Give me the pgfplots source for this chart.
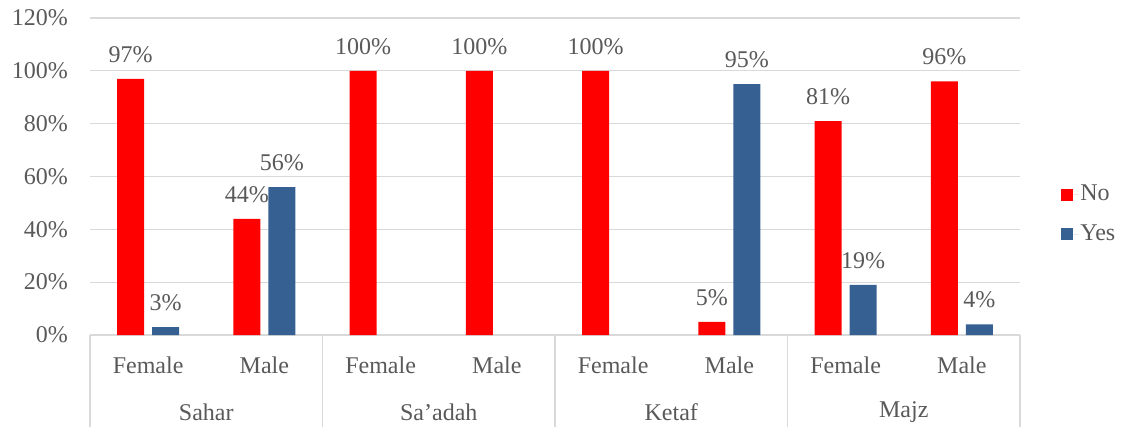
\documentclass[border=0pt]{standalone}
\usepackage{fontspec}
\setmainfont{Liberation Serif}[Ligatures=ResetAll]
\usepackage{pgfplots}
\pgfplotsset{compat=1.18}
\definecolor{noc}{HTML}{FF0000}
\definecolor{yesc}{HTML}{376092}
\definecolor{txt}{HTML}{595959}
\definecolor{grd}{HTML}{D9D9D9}
\begin{document}
\fontsize{24bp}{28bp}\selectfont
\begin{tikzpicture}[x=1bp,y=1bp]
\useasboundingbox (0,0) rectangle (1122,426);
\begin{axis}[
  at={(90bp,91bp)}, anchor=south west,
  scale only axis, width=930bp, height=317bp,
  xmin=-0.5, xmax=7.5, ymin=0, ymax=120,
  ybar=8bp, bar width=27bp,
  xtick={0,...,7},
  xticklabels={Female,Male,Female,Male,Female,Male,Female,Male},
  ytick={0,20,...,120},
  major tick length=0pt,
  ymajorgrids, grid style={grd, line width=1.2bp},
  axis x line*=bottom, axis y line*=left,
  y axis line style={draw=none},
  x axis line style={grd, line width=1.2bp, -},
  tick label style={text=txt, font=\fontsize{24bp}{28bp}\selectfont},
  /pgf/number format/assume math mode=true,
  yticklabel={\pgfmathprintnumber{\tick}\%},
  yticklabel style={xshift=-14bp},
  xticklabel style={yshift=-14bp},
  nodes near coords={\pgfmathprintnumber{\pgfplotspointmeta}\%},
  nodes near coords style={text=txt, anchor=south, yshift=8bp, font=\fontsize{24bp}{28bp}\selectfont},
  clip=false,
  legend style={draw=none, fill=none, at={(axis description cs:1.041,0.38)}, anchor=west,
    row sep=16bp, font=\fontsize{24bp}{28bp}\selectfont, text=txt,
    legend cell align=left},
  legend image code/.code={\fill[#1] (0bp,-6bp) rectangle (12bp,6bp); \path (0bp,0bp) -- (17bp,0bp);},
]
\addplot[fill=noc, draw=none] coordinates {(0,97) (1,44) (2,100) (3,100) (4,100) (5,5) (6,81) (7,96)};
\addlegendentry{No}
\addplot[fill=yesc, draw=none] coordinates {(0,3) (1,56) (5,95) (6,19) (7,4)};
\addlegendentry{Yes}
\foreach \s in {-0.5,1.5,3.5,5.5,7.5} {
  \edef\tmp{\noexpand\draw[grd, line width=1.2bp] (axis cs:\s,0) -- ++(0bp,-100bp);}\tmp
}
\node[text=txt, yshift=-77bp] at (axis cs:0.5,0) {Sahar};
\node[text=txt, yshift=-77bp] at (axis cs:2.5,0) {Sa'adah};
\node[text=txt, yshift=-77bp] at (axis cs:4.5,0) {Ketaf};
\node[text=txt, yshift=-77bp] at (axis cs:6.5,0) {Majz};
\end{axis}
\end{tikzpicture}
\end{document}
